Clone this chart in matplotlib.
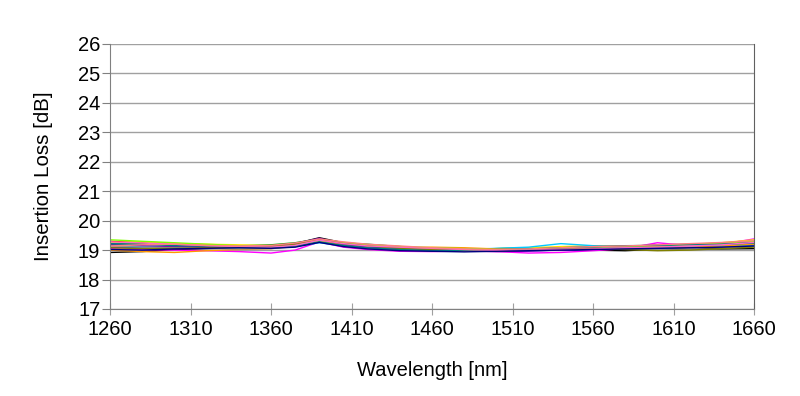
import matplotlib
matplotlib.use("Agg")
import matplotlib.pyplot as plt

plt.rcParams['font.family'] = ['Liberation Sans', 'DejaVu Sans']

wavelengths = [1260, 1280, 1300, 1320, 1340, 1360, 1375, 1390, 1405, 1420, 1440,
               1460, 1480, 1500, 1520, 1540, 1560, 1580, 1600, 1620, 1640, 1660]

ch01 = [18.92, 18.95, 19.02, 19.05, 19.08, 19.10, 19.22, 19.42, 19.25, 19.12, 19.05, 19.02, 18.98, 18.97, 18.99, 19.02, 19.00, 18.98, 19.03, 19.05, 19.04, 19.05]
ch02 = [19.30, 19.25, 19.22, 19.18, 19.15, 19.12, 19.20, 19.35, 19.22, 19.15, 19.10, 19.05, 19.02, 19.00, 19.03, 19.05, 19.08, 19.12, 19.10, 19.15, 19.20, 19.25]
ch03 = [19.10, 19.08, 19.12, 19.15, 19.12, 19.08, 19.15, 19.30, 19.18, 19.08, 19.00, 18.98, 18.97, 18.96, 18.98, 19.00, 19.02, 19.05, 19.07, 19.10, 19.12, 19.15]
ch04 = [19.20, 19.22, 19.18, 19.12, 19.15, 19.18, 19.25, 19.38, 19.24, 19.20, 19.12, 19.05, 19.03, 19.05, 19.08, 19.05, 19.10, 19.08, 19.12, 19.15, 19.18, 19.22]
ch05 = [19.05, 19.02, 19.00, 18.98, 18.95, 18.90, 19.00, 19.28, 19.10, 19.02, 18.96, 18.95, 18.97, 18.95, 18.90, 18.92, 18.98, 19.05, 19.25, 19.15, 19.20, 19.38]
ch06 = [19.25, 19.28, 19.22, 19.20, 19.18, 19.15, 19.18, 19.30, 19.20, 19.15, 19.08, 19.02, 19.00, 19.05, 19.08, 19.12, 19.15, 19.10, 19.12, 19.18, 19.25, 19.35]
ch07 = [19.15, 19.12, 19.10, 19.08, 19.06, 19.08, 19.12, 19.25, 19.15, 19.10, 19.05, 19.00, 19.02, 19.06, 19.10, 19.22, 19.15, 19.10, 19.08, 19.12, 19.15, 19.18]
ch08 = [19.00, 18.95, 18.92, 18.98, 19.02, 19.05, 19.15, 19.32, 19.18, 19.12, 19.08, 19.10, 19.08, 19.04, 19.02, 19.05, 19.10, 19.15, 19.12, 19.10, 19.14, 19.20]
ch09 = [19.18, 19.15, 19.12, 19.10, 19.12, 19.14, 19.22, 19.40, 19.20, 19.10, 19.05, 19.00, 18.98, 18.95, 18.97, 19.00, 19.05, 19.12, 19.18, 19.20, 19.22, 19.28]
ch10 = [19.35, 19.30, 19.25, 19.20, 19.15, 19.12, 19.18, 19.33, 19.26, 19.18, 19.12, 19.08, 19.05, 19.02, 19.00, 19.04, 19.08, 19.12, 19.15, 19.20, 19.24, 19.30]
ch11 = [19.12, 19.10, 19.08, 19.05, 19.04, 19.05, 19.12, 19.28, 19.14, 19.06, 19.02, 18.98, 18.96, 18.98, 19.02, 19.05, 19.08, 19.05, 19.02, 19.05, 19.10, 19.12]
ch12 = [19.08, 19.05, 19.06, 19.08, 19.10, 19.12, 19.20, 19.36, 19.22, 19.14, 19.06, 19.02, 19.00, 18.98, 19.00, 19.02, 19.06, 19.02, 18.98, 19.00, 19.05, 19.10]
ch13 = [19.22, 19.20, 19.15, 19.14, 19.10, 19.08, 19.14, 19.28, 19.16, 19.08, 19.02, 18.98, 19.00, 19.02, 19.04, 19.08, 19.12, 19.15, 19.16, 19.18, 19.20, 19.24]
ch14 = [19.28, 19.24, 19.20, 19.15, 19.12, 19.10, 19.16, 19.34, 19.22, 19.14, 19.10, 19.06, 19.02, 18.99, 19.00, 19.02, 19.04, 19.08, 19.10, 19.14, 19.18, 19.26]
ch15 = [19.02, 19.00, 19.04, 19.06, 19.08, 19.06, 19.10, 19.26, 19.12, 19.04, 18.98, 18.96, 18.94, 18.96, 18.98, 19.00, 19.02, 19.04, 19.06, 19.08, 19.10, 19.14]
ch16 = [19.14, 19.18, 19.20, 19.16, 19.14, 19.16, 19.24, 19.38, 19.28, 19.20, 19.14, 19.08, 19.04, 19.02, 19.04, 19.08, 19.12, 19.14, 19.18, 19.22, 19.26, 19.32]

channels = [ch01, ch02, ch03, ch04, ch05, ch06, ch07, ch08,
            ch09, ch10, ch11, ch12, ch13, ch14, ch15, ch16]
colors = ['#000000', '#ff0000', '#0000ff', '#00a000', '#ff00ff', '#ffe000',
          '#00c8ff', '#ff9900', '#8000c0', '#80ff00', '#909090', '#808000',
          '#008080', '#ff66cc', '#000080', '#ff8080']

xticks = [1260, 1310, 1360, 1410, 1460, 1510, 1560, 1610, 1660]
yticks = [17, 18, 19, 20, 21, 22, 23, 24, 25, 26]

fig = plt.figure(figsize=(8, 3.96), dpi=100)
ax = fig.add_axes([0.1375, 0.2197, 0.805, 0.6692])

for vals, c in zip(channels, colors):
    ax.plot(wavelengths, vals, color=c, lw=1.0)

ax.set_xlim(1260, 1660)
ax.set_ylim(17, 26)
ax.set_xticks(xticks)
ax.set_yticks(yticks)
ax.yaxis.grid(True, color='#a0a0a0', lw=1)
ax.set_axisbelow(True)

for s in ['left', 'bottom']:
    ax.spines[s].set_color('#808080')
ax.spines['top'].set_visible(False)
ax.spines['right'].set_color('#606060')

ax.tick_params(axis='y', direction='out', length=6, color='#808080', labelsize=14.5, pad=1)
ax.tick_params(axis='x', direction='inout', length=8, color='#a0a0a0', labelsize=14.5, pad=4)

ax.set_xlabel('Wavelength [nm]', fontsize=14.5, labelpad=16)
ax.set_ylabel('Insertion Loss [dB]', fontsize=14.8, labelpad=18)

fig.savefig('out.png', dpi=100)
